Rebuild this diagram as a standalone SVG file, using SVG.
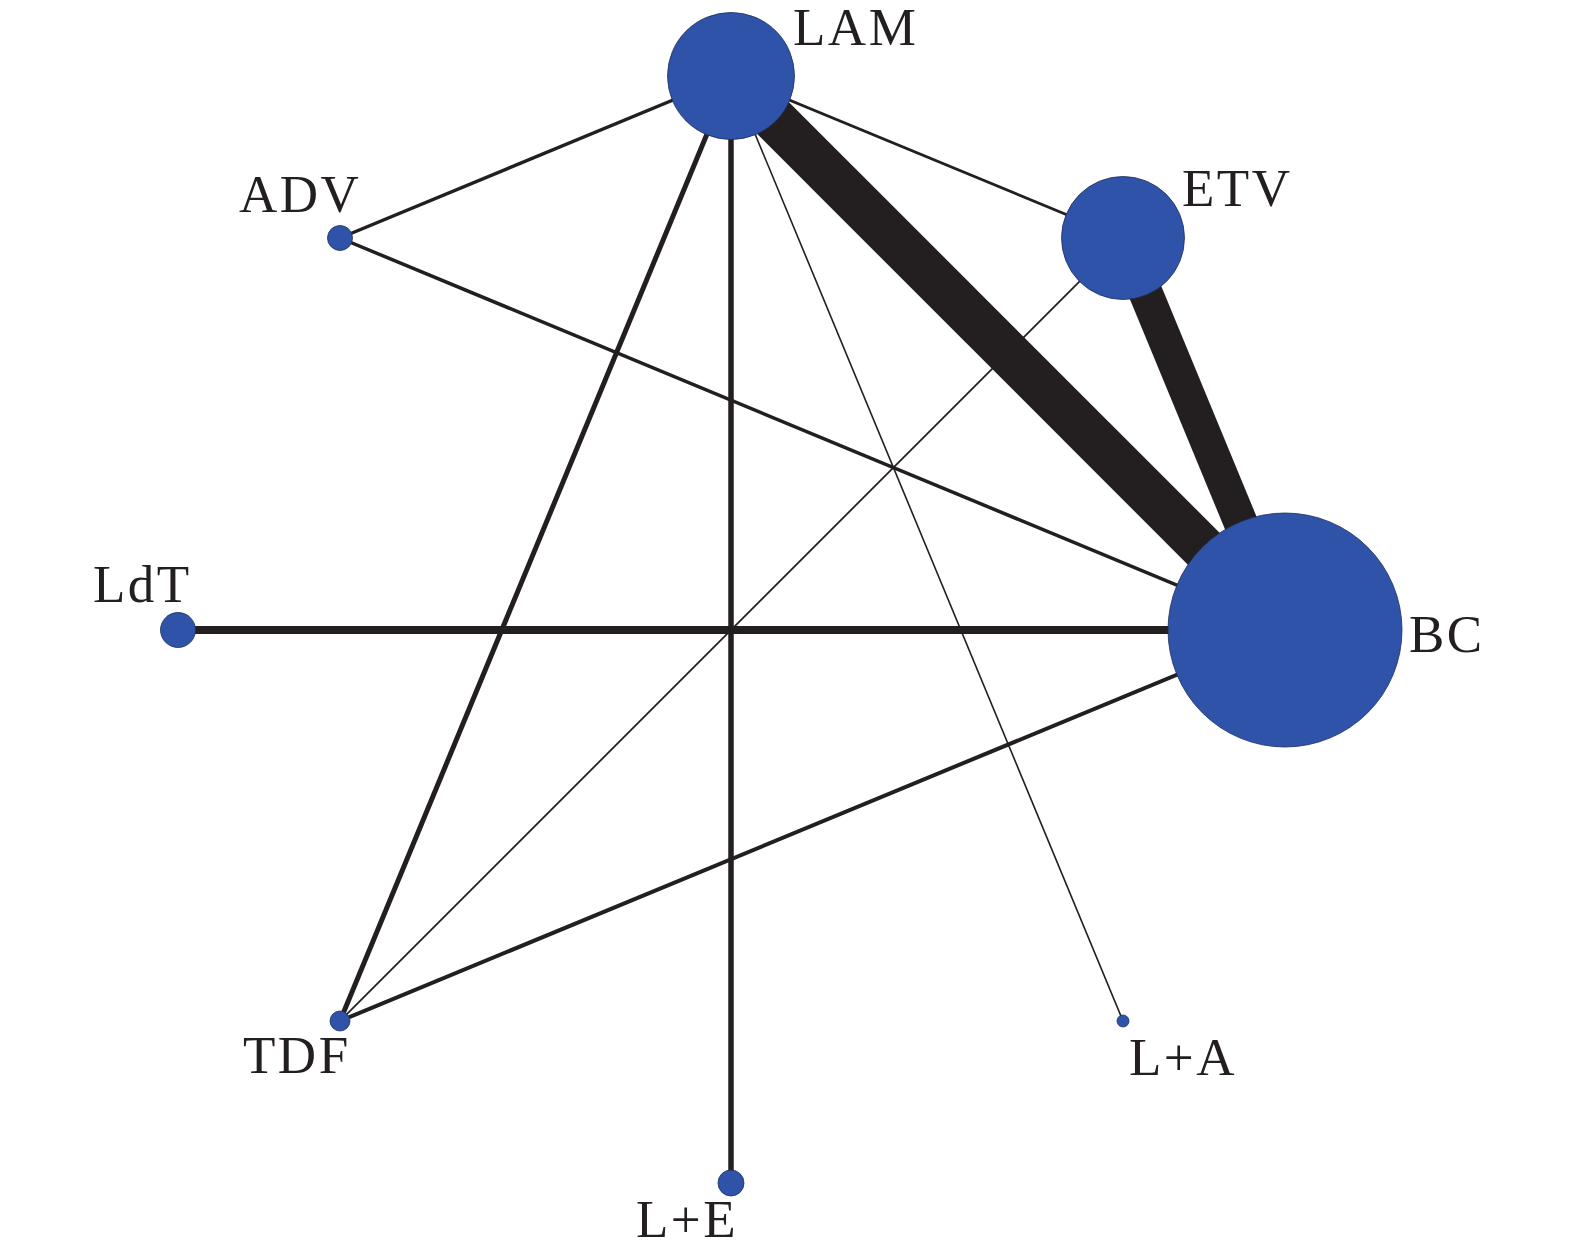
<svg xmlns="http://www.w3.org/2000/svg" width="1575" height="1257" viewBox="0 0 1575 1257">
<style>
.e{stroke:#231F20;fill:none;stroke-linecap:butt}
.n{fill:#2E53A9;stroke:#1F2E5C;stroke-width:0.8}
.t{font-family:"Liberation Serif","Times New Roman",serif;font-size:53px;fill:#231F20;letter-spacing:2.5px}
</style>
<rect width="1575" height="1257" fill="#FFFFFF"/>
<g id="edges">
<line class="e" x1="731" y1="76" x2="1285" y2="630" stroke-width="45"/>
<line class="e" x1="1123" y1="238" x2="1285" y2="630" stroke-width="34"/>
<line class="e" x1="178" y1="630" x2="1285" y2="630" stroke-width="8"/>
<line class="e" x1="731" y1="76" x2="731" y2="1183" stroke-width="5.5"/>
<line class="e" x1="731" y1="76" x2="340" y2="1021" stroke-width="5"/>
<line class="e" x1="340" y1="1021" x2="1285" y2="630" stroke-width="4"/>
<line class="e" x1="340" y1="238" x2="1285" y2="630" stroke-width="3.5"/>
<line class="e" x1="731" y1="76" x2="340" y2="238" stroke-width="3.5"/>
<line class="e" x1="731" y1="76" x2="1123" y2="238" stroke-width="2.8"/>
<line class="e" x1="1123" y1="238" x2="340" y2="1021" stroke-width="1.8"/>
<line class="e" x1="731" y1="76" x2="1123" y2="1021" stroke-width="1.6"/>
</g>
<g id="node-LAM"><circle class="n" cx="731" cy="76" r="63.5"/><text class="t" x="793" y="45">LAM</text></g>
<g id="node-ETV"><circle class="n" cx="1123" cy="238" r="61.5"/><text class="t" x="1182" y="206">ETV</text></g>
<g id="node-BC"><circle class="n" cx="1285" cy="630" r="117"/><text class="t" x="1409" y="652">BC</text></g>
<g id="node-ADV"><circle class="n" cx="340" cy="238" r="12.5"/><text class="t" x="239" y="212">ADV</text></g>
<g id="node-LdT"><circle class="n" cx="178" cy="630" r="17.5"/><text class="t" x="93" y="602">LdT</text></g>
<g id="node-TDF"><circle class="n" cx="340" cy="1021" r="10"/><text class="t" x="243" y="1073">TDF</text></g>
<g id="node-LE"><circle class="n" cx="731" cy="1183" r="13"/><text class="t" x="636" y="1237">L+E</text></g>
<g id="node-LA"><circle class="n" cx="1123" cy="1021" r="6"/><text class="t" x="1129" y="1075">L+A</text></g>
</svg>
